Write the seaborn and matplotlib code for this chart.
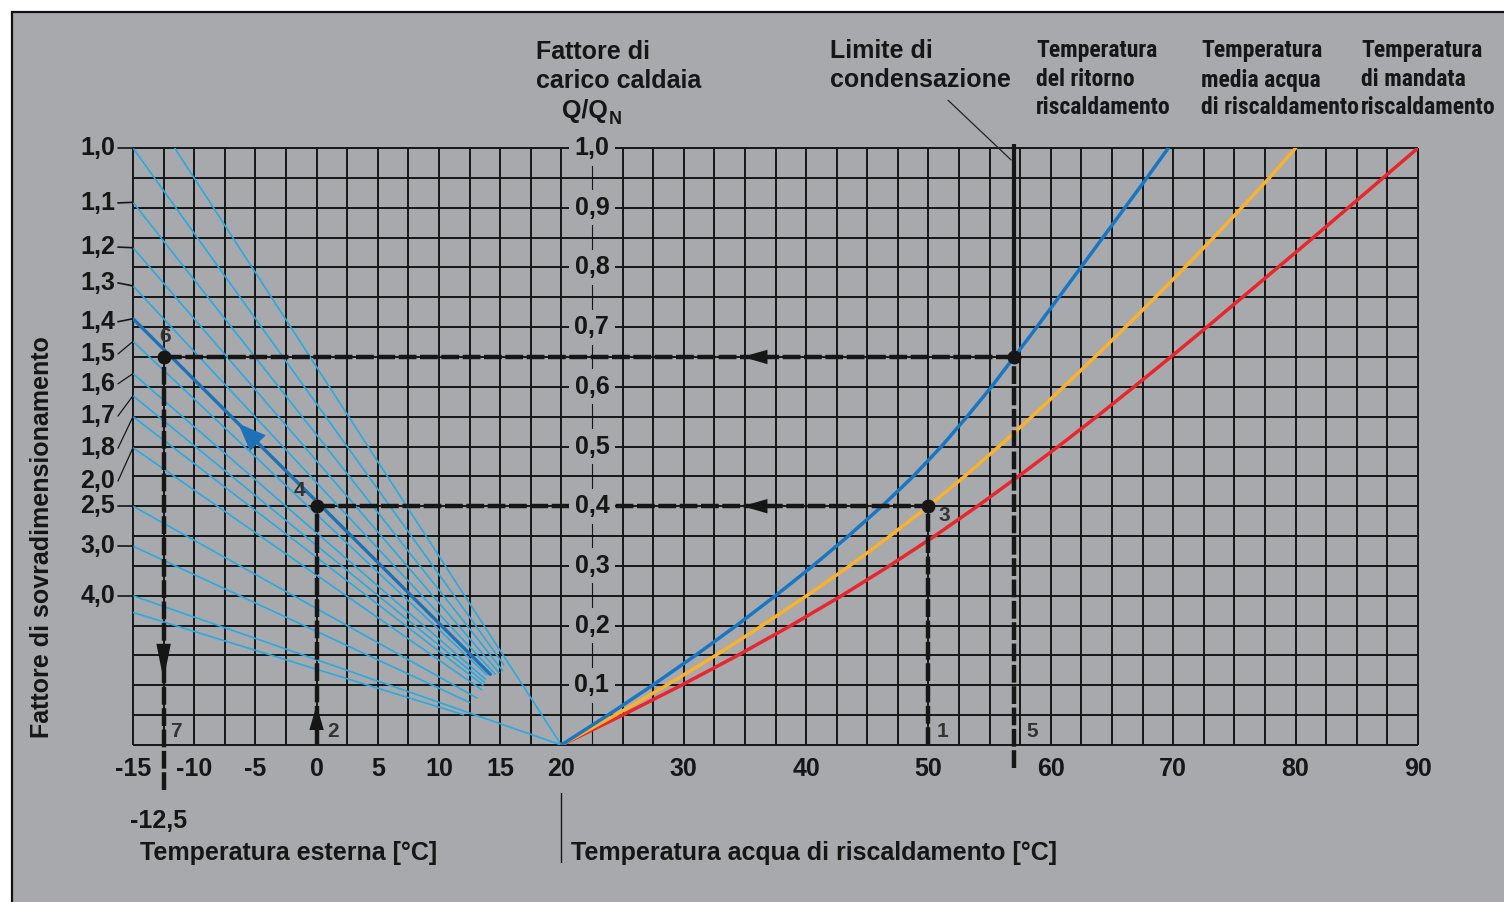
import numpy as np
import pandas as pd
import matplotlib
matplotlib.use("Agg")
import matplotlib.pyplot as plt
import seaborn as sns
from matplotlib import font_manager as fm
from matplotlib.patches import Rectangle

# ---------------- data ----------------
load_q = [0.00, 0.05, 0.10, 0.15, 0.20, 0.25, 0.30, 0.35, 0.40, 0.45, 0.50,
          0.55, 0.60, 0.65, 0.70, 0.75, 0.80, 0.85, 0.90, 0.95, 1.00]
t_return = [20.0, 23.8, 27.45, 30.95, 34.3, 37.5, 40.55, 43.45, 46.2, 48.75, 51.05,
            53.15, 55.15, 57.0, 58.85, 60.65, 62.45, 64.25, 66.05, 67.85, 69.6]
t_mean = [20.0, 24.4, 28.6, 32.6, 36.4, 40.05, 43.55, 46.85, 50.0, 52.95, 55.75,
          58.45, 61.05, 63.6, 66.1, 68.55, 70.95, 73.3, 75.6, 77.85, 80.0]
t_supply = [20.0, 25.0, 29.8, 34.4, 38.75, 42.9, 46.8, 50.5, 54.0, 57.35, 60.6,
            63.75, 66.8, 69.8, 72.75, 75.65, 78.55, 81.45, 84.3, 87.15, 90.0]

oversize_labels = ["1,0", "1,1", "1,2", "1,3", "1,4", "1,5", "1,6", "1,7", "1,8",
                   "2,0", "2,5", "3,0", "4,0"]
oversize_axis_q = [1.0, 0.909, 0.833, 0.769, 0.714, 0.676, 0.622, 0.585, 0.55,
                   0.498, 0.4, 0.333, 0.25]
oversize_label_q = [1.0, 0.908, 0.834, 0.774, 0.709, 0.655, 0.605, 0.551, 0.497,
                    0.442, 0.4, 0.333, 0.25]

fan_start_q = [1.108, 1.0, 0.909, 0.833, 0.769, 0.714, 0.676, 0.622, 0.585, 0.55,
               0.498, 0.4, 0.333, 0.25, 0.222]
fan_end_x = [20.0, 15.3, 15.2, 14.9, 14.6, 14.2, 13.9, 13.8, 13.7, 13.6,
             13.5, 13.1, 12.5, 20.0, 12.0]
fan_highlight = 5          # the 1,4 line drawn dark
fan_origin = (20.0, 0.0)   # all lines aim at room temperature / zero load

outdoor_ticks = [-15, -10, -5, 0, 5, 10, 15, 20]
water_ticks = [30, 40, 50, 60, 70, 80, 90]
load_ticks = [0.1, 0.2, 0.3, 0.4, 0.5, 0.6, 0.7, 0.8, 0.9, 1.0]
load_labels = ["0,1", "0,2", "0,3", "0,4", "0,5", "0,6", "0,7", "0,8", "0,9", "1,0"]

# example read-out
ex_water = 50.0
ex_load = 0.4
ex_outdoor = 0.0
cond_limit = 57.0
cond_load = 0.65
design_outdoor = -12.5

# ---------------- style ----------------
sns.set_style("white")
names = {f.name for f in fm.fontManager.ttflist}
NARROW = next((n for n in ["Liberation Sans Narrow", "Roboto Condensed", "Roboto"]
               if n in names), "DejaVu Sans")
REG = "Liberation Sans" if "Liberation Sans" in names else "DejaVu Sans"
plt.rcParams["font.family"] = [REG, "DejaVu Sans"]

BG = "#a7a9ac"
INK = "#161616"
LB = "#2aaae2"
DB = "#1b72b8"
C_RET, C_MEAN, C_SUP = "#1877c4", "#fbb12b", "#e8262d"

W, H = 1504, 902
fig = plt.figure(figsize=(W / 100, H / 100), dpi=100, facecolor="white")
fig.add_artist(Rectangle((12 / W, -0.1), 1.2, (H - 12) / H + 0.1,
                         transform=fig.transFigure, facecolor=BG,
                         edgecolor="#111111", lw=1.6, zorder=0))

ax = fig.add_axes([133 / W, 1 - 745 / H, (1418 - 133) / W, (745 - 148) / H])
ax.set_facecolor("none")
ax.set_xlim(-15, 90)
ax.set_ylim(0, 1)
for s in ax.spines.values():
    s.set_visible(False)

# grid
gx = np.arange(-15, 90.01, 2.5)
gy = np.arange(0, 1.001, 0.05)
ax.vlines([v for v in gx if abs(v - 22.5) > 1e-6], 0, 1, colors=INK, lw=1.4,
          zorder=1, clip_on=False)
ax.vlines([22.5], 0, 1, colors=INK, lw=0.8, zorder=1, clip_on=False)
ax.hlines(gy, -15, 90, colors=INK, lw=1.4, zorder=1, clip_on=False)

# fan lines
rows = []
for i, (q0, xe) in enumerate(zip(fan_start_q, fan_end_x)):
    x0 = -15.0
    k = q0 / (fan_origin[0] - x0)
    rows.append((i, x0, q0))
    rows.append((i, xe, k * (fan_origin[0] - xe)))
fan = pd.DataFrame(rows, columns=["line", "x", "q"])
sns.lineplot(data=fan[fan.line != fan_highlight], x="x", y="q", units="line",
             estimator=None, color=LB, lw=1.2, ax=ax, legend=False, zorder=2)
sns.lineplot(data=fan[fan.line == fan_highlight], x="x", y="q", units="line",
             estimator=None, color=DB, lw=2.4, ax=ax, legend=False, zorder=3)

# heating curves
curves = pd.DataFrame({
    "q": load_q * 3,
    "t": t_supply + t_mean + t_return,
    "series": ["supply"] * len(load_q) + ["mean"] * len(load_q) + ["return"] * len(load_q),
})
sns.lineplot(data=curves, x="t", y="q", hue="series",
             palette={"supply": C_SUP, "mean": C_MEAN, "return": C_RET},
             estimator=None, sort=False, lw=2.5, ax=ax, legend=False, zorder=4)

# x ticks (after seaborn so its labels are replaced)
xt = list(range(-15, 91, 5))
xl = [str(v) if (v in outdoor_ticks or v in water_ticks) else "" for v in xt]
ax.set_xticks(xt)
ax.set_xticklabels(xl, fontsize=18, fontweight="bold", color=INK)
ax.set_yticks([])
ax.set_xlabel("")
ax.set_ylabel("")
ax.set_xlim(-15, 90)
ax.set_ylim(0, 1)
ax.tick_params(axis="x", length=7, width=1.4, color=INK, pad=1.5, direction="out")

# construction lines
DASH = (0, (4, 0.8))
kw = dict(color=INK, lw=3.2, ls=DASH, dash_capstyle="butt", zorder=6, clip_on=False)
ax.plot([ex_water, ex_water], [0, ex_load], **kw)
ax.plot([ex_outdoor, ex_water], [ex_load, ex_load], **kw)
ax.plot([ex_outdoor, ex_outdoor], [0, ex_load], **kw)
ax.plot([design_outdoor, cond_limit], [cond_load, cond_load], **kw)
ax.plot([design_outdoor, design_outdoor], [-0.075, cond_load], **kw)
ax.plot([cond_limit, cond_limit], [-0.039, cond_load], **kw)
ax.plot([cond_limit, cond_limit], [cond_load, 1.006], color=INK, lw=3.0,
        solid_capstyle="butt", zorder=6, clip_on=False)
ax.plot([ex_water, ex_outdoor, cond_limit, design_outdoor],
        [ex_load, ex_load, cond_load, cond_load], ls="none", marker="o",
        ms=9, color=INK, zorder=7, clip_on=False)

def head(tip, off, color=INK, hl=0.9, hw=0.26, ms=20):
    ax.annotate("", xy=tip, xytext=off, textcoords="offset points",
                arrowprops=dict(arrowstyle=f"-|>,head_length={hl},head_width={hw}",
                                color=color, lw=0, shrinkA=0, shrinkB=0,
                                mutation_scale=ms), zorder=8)

head((34.8, ex_load), (18, 0))
head((34.8, cond_load), (18, 0))
head((ex_outdoor, 0.067), (0, -23))
head((design_outdoor, 0.109), (0, 27), hl=1.3)
k14 = fan_start_q[fan_highlight] / 35.0
head((-6.4, k14 * (20 + 6.4)), (13, -13), color=DB, hl=1.0, hw=0.4)

# point numbers
nk = dict(fontsize=15, color="#333333", fontweight="bold", zorder=9)
ax.text(50.7, 0.022, "1", ha="left", va="center", **nk)
ax.text(0.9, 0.022, "2", ha="left", va="center", **nk)
ax.text(51.3, 0.384, "3", ha="center", va="center", **nk)
ax.text(-1.4, 0.427, "4", ha="center", va="center", **nk)
ax.text(58.0, 0.022, "5", ha="left", va="center", **nk)
ax.text(-12.4, 0.685, "6", ha="center", va="center", **nk)
ax.text(-12.0, 0.022, "7", ha="left", va="center", **nk)

# centre load scale
for q, lab in zip(load_ticks, load_labels):
    ax.text(22.5, q, lab, ha="center", va="center", fontsize=18, fontweight="bold",
            color=INK, zorder=9,
            bbox=dict(boxstyle="square,pad=0.22", fc=BG, ec="none"))

# left oversizing scale
for lab, qa, ql in zip(oversize_labels, oversize_axis_q, oversize_label_q):
    ax.text(-16.47, ql, lab, ha="right", va="center", fontsize=18,
            fontweight="bold", color=INK)
    ax.plot([-16.23, -15.0], [ql, qa], color=INK, lw=1.2 if abs(ql - qa) < 0.006 else 0.9,
            clip_on=False, zorder=2)

# condensation leader and separator
ax.plot([51.6, 56.75], [1.08, 0.98], color="#222222", lw=0.9, clip_on=False)
ax.plot([20, 20], [-0.080, -0.196], color=INK, lw=1.0, clip_on=False)

# figure texts
def ftxt(x, y, s, size=18, fam=None, **k):
    fig.text(x / W, 1 - y / H, s, fontsize=size, fontweight="bold", color=INK,
             family=fam or [REG, "DejaVu Sans"], va="center", **k)

ftxt(536, 52, "Fattore di")
ftxt(536, 81, "carico caldaia")
ftxt(562, 111, "Q/Q")
ftxt(609, 119, "N", size=13)
ftxt(830, 51, "Limite di")
ftxt(830, 80, "condensazione")
for xx, lines in [(1036, ["Temperatura", "del ritorno", "riscaldamento"]),
                  (1201, ["Temperatura", "media acqua", "di riscaldamento"]),
                  (1361, ["Temperatura", "di mandata", "riscaldamento"])]:
    for yy, s in zip([51, 80, 108], lines):
        ftxt(xx, yy, s, size=17, fam=[NARROW, "DejaVu Sans"])
ftxt(159, 821, "-12,5", ha="center")
ftxt(140, 853, "Temperatura esterna [°C]")
ftxt(571, 853, "Temperatura acqua di riscaldamento [°C]")
fig.text(42 / W, 1 - 537 / H, "Fattore di sovradimensionamento", rotation=90,
         fontsize=18, fontweight="bold", color=INK, ha="center", va="center")

fig.savefig("out.png", dpi=100, facecolor="white")
